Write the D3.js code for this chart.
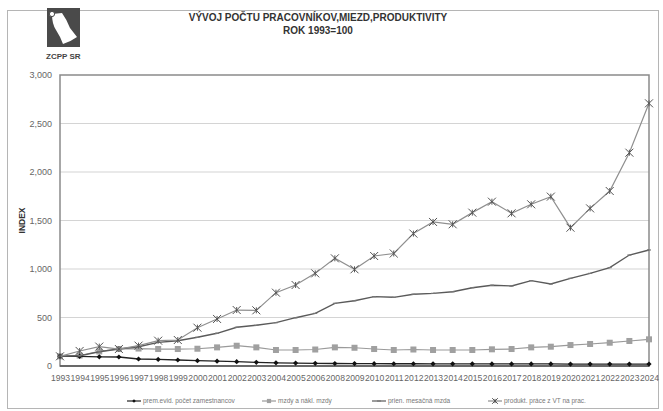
<!DOCTYPE html>
<html>
<head>
<meta charset="utf-8">
<script src="https://cdn.jsdelivr.net/npm/d3@7/dist/d3.min.js"></script>
<style>
  html, body { margin: 0; padding: 0; background: #ffffff; }
  svg { display: block; }
  text { font-family: "Liberation Sans", Arial, sans-serif; }
</style>
</head>
<body>
<svg id="chart" width="663" height="411"></svg>
<script>
// Years on the category axis (2007 is not reported)
const years = ["1993","1994","1995","1996","1997","1998","1999","2000","2001","2002","2003","2004","2005","2006",
               "2008","2009","2010","2011","2012","2013","2014","2015","2016","2017","2018","2019","2020","2021","2022","2023","2024"];

// Index values, 1993 = 100
const employees = [100,100,95,93,72,68,62,55,50,45,38,33,30,28,26,25,24,23,23,22,22,22,21,21,21,21,20,20,20,20,20];
const wageCosts = [100,108,150,175,180,175,175,178,192,209,192,165,165,170,192,188,175,165,170,165,165,165,172,175,192,199,216,227,240,258,275];
const avgWage   = [100,105,147,175,199,244,261,296,337,399,420,447,498,543,646,673,715,708,739,749,766,807,832,825,880,845,904,955,1014,1144,1196];
const productivity = [100,155,200,175,210,261,268,395,485,577,574,756,835,955,1110,997,1134,1160,1365,1485,1461,1581,1694,1574,1667,1746,1426,1625,1804,2199,2708];

const yTicks = [0,500,1000,1500,2000,2500,3000];

const seriesNames = ["prem.evid. počet zamestnancov","mzdy a nákl. mzdy","prien. mesačná mzda","produkt. práce z VT na prac."];

const svg = d3.select("#chart");
const plot = {left: 60, right: 649, top: 75, bottom: 366};

// outer frame
svg.append("rect").attr("x", 7.5).attr("y", 10.5).attr("width", 651).attr("height", 398)
  .attr("fill", "#ffffff").attr("stroke", "#b5b5b5").attr("stroke-width", 1);

const x = d3.scalePoint().domain(years).range([plot.left, plot.right]);
const y = d3.scaleLinear().domain([0, 3000]).range([plot.bottom, plot.top]);

// plot area
svg.append("rect").attr("x", plot.left).attr("y", plot.top)
  .attr("width", plot.right - plot.left).attr("height", plot.bottom - plot.top)
  .attr("fill", "#ffffff");

// gridlines
svg.append("g").selectAll("line").data(yTicks.filter(d => d > 0 && d < 3000)).join("line")
  .attr("x1", plot.left).attr("x2", plot.right)
  .attr("y1", d => y(d)).attr("y2", d => y(d))
  .attr("stroke", "#d4d4d4").attr("stroke-width", 1.2);

// y axis labels
const yAxis = d3.axisLeft(y).tickValues(yTicks).tickSize(0).tickPadding(8)
  .tickFormat(d3.format(","));
const yg = svg.append("g").attr("transform", `translate(${plot.left},0)`).call(yAxis);
yg.select(".domain").remove();
yg.selectAll("text").attr("font-size", 9).attr("fill", "#666")
  .attr("font-family", "Liberation Sans, Arial, sans-serif");

// x axis labels
const xAxis = d3.axisBottom(x).tickSize(0).tickPadding(9);
const xg = svg.append("g").attr("transform", `translate(0,${plot.bottom})`).call(xAxis);
xg.select(".domain").remove();
xg.selectAll("text").attr("font-size", 8.6).attr("fill", "#666")
  .attr("font-family", "Liberation Sans, Arial, sans-serif");

// plot border
svg.append("rect").attr("x", plot.left).attr("y", plot.top)
  .attr("width", plot.right - plot.left).attr("height", plot.bottom - plot.top)
  .attr("fill", "none").attr("stroke", "#8a8a8a").attr("stroke-width", 1.5);
svg.append("line").attr("x1", plot.left).attr("x2", plot.right)
  .attr("y1", plot.bottom).attr("y2", plot.bottom)
  .attr("stroke", "#555").attr("stroke-width", 1.5);

// y axis title
svg.append("text").attr("transform", `translate(25,${(plot.top + plot.bottom) / 2}) rotate(-90)`)
  .attr("text-anchor", "middle").attr("font-size", 8.5).attr("font-weight", "bold")
  .attr("fill", "#333").text("INDEX");

// title
svg.append("text").attr("x", 318).attr("y", 21).attr("text-anchor", "middle")
  .attr("font-size", 10).attr("font-weight", "bold").attr("fill", "#333")
  .attr("font-family", "Liberation Sans Narrow, Arial Narrow, sans-serif")
  .text("VÝVOJ POČTU PRACOVNÍKOV,MIEZD,PRODUKTIVITY");
svg.append("text").attr("x", 318).attr("y", 34).attr("text-anchor", "middle")
  .attr("font-size", 10).attr("font-weight", "bold").attr("fill", "#333")
  .attr("font-family", "Liberation Sans Narrow, Arial Narrow, sans-serif")
  .text("ROK 1993=100");

// logo
const logo = svg.append("g");
logo.append("rect").attr("x", 47).attr("y", 8).attr("width", 33).attr("height", 39).attr("fill", "#4a4a4a");
logo.append("path").attr("d", "M52,14 L62,13 Q67,20 70,28 L77,37 Q70,42 63,44 Q60,36 56,30 Q52,24 52,14 Z")
  .attr("fill", "#ffffff");
logo.append("circle").attr("cx", 52).attr("cy", 14).attr("r", 2.6).attr("fill", "#ffffff").attr("stroke", "#4a4a4a").attr("stroke-width", 1);
svg.append("text").attr("x", 46).attr("y", 59).attr("font-size", 8).attr("font-weight", "bold")
  .attr("fill", "#444").attr("font-family", "Liberation Sans Narrow, Arial Narrow, sans-serif").text("ZCPP SR");

// series
const line = d3.line().x((d, i) => x(years[i])).y(d => y(d));

const series = [
  {name: seriesNames[0], values: employees, color: "#222", width: 1.3, marker: "diamond", mcolor: "#111"},
  {name: seriesNames[1], values: wageCosts, color: "#9a9a9a", width: 1.2, marker: "square", mcolor: "#a0a0a0"},
  {name: seriesNames[2], values: avgWage, color: "#5a5a5a", width: 1.4, marker: "dash", mcolor: "#777"},
  {name: seriesNames[3], values: productivity, color: "#8f8f8f", width: 1.2, marker: "x", mcolor: "#555"}
];

function drawMarker(g, type, cx, cy, color, k = 1) {
  if (type === "diamond") {
    const r = 2.6 * k;
    g.append("path").attr("d", `M${cx},${cy-r}L${cx+r},${cy}L${cx},${cy+r}L${cx-r},${cy}Z`).attr("fill", color);
  } else if (type === "square") {
    const r = 3 * k;
    g.append("rect").attr("x", cx - r).attr("y", cy - r).attr("width", 2 * r).attr("height", 2 * r).attr("fill", color);
  } else if (type === "dash") {
    g.append("line").attr("x1", cx - 2).attr("x2", cx + 2).attr("y1", cy).attr("y2", cy)
      .attr("stroke", color).attr("stroke-width", 1.2);
  } else if (type === "x") {
    const r = 4 * k;
    g.append("path").attr("d", `M${cx-r},${cy-r}L${cx+r},${cy+r}M${cx-r},${cy+r}L${cx+r},${cy-r}M${cx},${cy-r*0.75}L${cx},${cy+r*0.75}`)
      .attr("stroke", color).attr("stroke-width", 1).attr("fill", "none");
  }
}

// draw from back to front: wage costs, employees, average wage, productivity
[series[1], series[0], series[2], series[3]].forEach(s => {
  const g = svg.append("g");
  g.append("path").datum(s.values).attr("d", line)
    .attr("fill", "none").attr("stroke", s.color).attr("stroke-width", s.width);
  s.values.forEach((v, i) => drawMarker(g, s.marker, x(years[i]), y(v), s.mcolor));
});

// legend
const legendItems = [
  {s: series[0], x: 127},
  {s: series[1], x: 262},
  {s: series[2], x: 372},
  {s: series[3], x: 488}
];
const lg = svg.append("g");
legendItems.forEach(it => {
  const ly = 401;
  lg.append("line").attr("x1", it.x).attr("x2", it.x + 14).attr("y1", ly).attr("y2", ly)
    .attr("stroke", it.s.color).attr("stroke-width", 1.2);
  drawMarker(lg, it.s.marker, it.x + 7, ly, it.s.mcolor, 0.7);
  lg.append("text").attr("x", it.x + 16).attr("y", ly + 2.2).attr("font-size", 6.5)
    .attr("fill", "#777").text(it.s.name);
});
</script>
</body>
</html>
